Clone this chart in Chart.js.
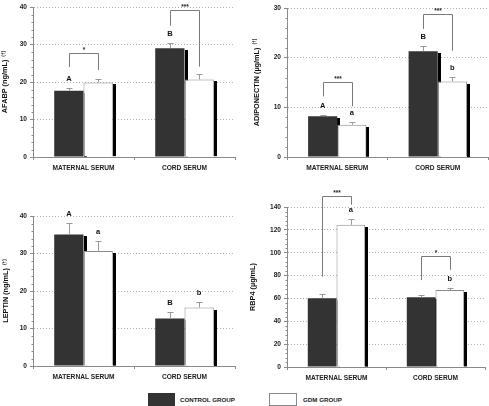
<!DOCTYPE html>
<html>
<head>
<meta charset="utf-8">
<script src="https://cdn.jsdelivr.net/npm/chart.js@4.4.1/dist/chart.umd.min.js"></script>
<style>
  html, body { margin: 0; padding: 0; background: #fff; }
  body { width: 489px; height: 406px; position: relative; overflow: hidden; font-family: "Liberation Sans", Arial, sans-serif; }
  canvas { position: absolute; }
  .sw { position: absolute; box-sizing: border-box; height: 13px; }
  .lg { position: absolute; font: bold 6.2px "Liberation Sans", Arial, sans-serif; color: #222; line-height: 8px; }
</style>
</head>
<body>
<canvas id="c-afabp" width="245" height="185" style="left:0;top:0"></canvas>
<canvas id="c-adipo" width="244" height="185" style="left:245px;top:0"></canvas>
<canvas id="c-leptin" width="245" height="200" style="left:0;top:185px"></canvas>
<canvas id="c-rbp4" width="244" height="200" style="left:245px;top:185px"></canvas>

<div class="sw" style="left:148px;top:393px;width:27px;background:#333"></div>
<div class="lg" id="lg-control" style="left:180px;top:396px"></div>
<div class="sw" style="left:269px;top:393px;width:28px;background:#fff;border:1px solid #8a8a8a"></div>
<div class="lg" id="lg-gdm" style="left:303px;top:396px"></div>

<script>
// ─── DATA ─────────────────────────────────────────────────────────────────────
const categories = ['MATERNAL SERUM', 'CORD SERUM'];
const seriesNames = ['CONTROL GROUP', 'GDM GROUP'];

const afabpControl = [17.7, 29.0];
const afabpGdm     = [19.9, 20.7];
const afabpSem     = [[0.8, 1.5], [0.9, 1.4]];
const afabpLetters = [['A', 'B'], ['', '']];
const afabpBrackets = [
  { cat: 0, left: 24.0, right: 23.2, top: 27.6, stars: '*' },
  { cat: 1, left: 35.0, right: 24.1, top: 39.2, stars: '***' },
];

const adipoControl = [8.2, 21.3];
const adipoGdm     = [6.5, 15.2];
const adipoSem     = [[0.3, 1.1], [0.5, 0.9]];
const adipoLetters = [['A', 'B'], ['a', 'b']];
const adipoBrackets = [
  { cat: 0, left: 12.2, right: 10.2, top: 15.2, stars: '***' },
  { cat: 1, left: 25.8, right: 21.4, top: 28.8, stars: '***' },
];

const leptinControl = [35.1, 12.7];
const leptinGdm     = [30.7, 15.6];
const leptinSem     = [[3.1, 1.7], [2.7, 1.4]];
const leptinLetters = [['A', 'B'], ['a', 'b']];
const leptinBrackets = [];

const rbp4Control = [60.1, 61.0];
const rbp4Gdm     = [124.4, 67.3];
const rbp4Sem     = [[3.5, 1.7], [5.0, 2.1]];
const rbp4Letters = [['', ''], ['a', 'b']];
const rbp4Brackets = [
  { cat: 0, left: 79, right: 142, top: 149.4, stars: '***' },
  { cat: 1, left: 76, right: 85, top: 97.4, stars: '*' },
];

document.getElementById('lg-control').textContent = seriesNames[0];
document.getElementById('lg-gdm').textContent = seriesNames[1];

const FONT = '"Liberation Sans", Arial, sans-serif';

// ─── DECORATIONS: bar shadows, error bars, letters, brackets, minor ticks, y title ──
const panelDecor = {
  id: 'panelDecor',
  beforeDatasetsDraw(chart) {
    const ctx = chart.ctx;
    ctx.save();
    ctx.fillStyle = '#000';
    chart.data.datasets.forEach((ds, i) => {
      chart.getDatasetMeta(i).data.forEach(bar => {
        const right = Math.round(bar.x + bar.width / 2);
        ctx.fillRect(right, Math.round(bar.y) + 2, 3, bar.base - bar.y - 2);
      });
    });
    ctx.restore();
  },
  afterDatasetsDraw(chart, args, o) {
    const { ctx, scales: { y } } = chart;
    ctx.save();

    // error bars (upper whisker only)
    ctx.strokeStyle = '#9a9a9a';
    ctx.lineWidth = 1;
    chart.data.datasets.forEach((ds, i) => {
      chart.getDatasetMeta(i).data.forEach((bar, j) => {
        const cx = Math.round(bar.x) + 0.5;
        const top = Math.round(y.getPixelForValue(ds.data[j] + o.sem[i][j])) + 0.5;
        ctx.beginPath();
        ctx.moveTo(cx, bar.y);
        ctx.lineTo(cx, top);
        ctx.moveTo(cx - 3, top);
        ctx.lineTo(cx + 3, top);
        ctx.stroke();

        const letter = o.letters[i][j];
        if (letter) {
          ctx.fillStyle = '#111';
          ctx.font = 'bold 7.5px ' + FONT;
          ctx.textAlign = 'center';
          ctx.textBaseline = 'middle';
          ctx.fillText(letter, bar.x, top - 10);
        }
      });
    });

    // significance brackets
    const m0 = chart.getDatasetMeta(0).data;
    const m1 = chart.getDatasetMeta(1).data;
    o.brackets.forEach(b => {
      const xl = Math.round(m0[b.cat].x) + 0.5;
      const xr = Math.round(m1[b.cat].x) + 0.5;
      const yt = Math.round(y.getPixelForValue(b.top)) + 0.5;
      ctx.strokeStyle = '#7a7a7a';
      ctx.beginPath();
      ctx.moveTo(xl, y.getPixelForValue(b.left));
      ctx.lineTo(xl, yt);
      ctx.lineTo(xr, yt);
      ctx.lineTo(xr, y.getPixelForValue(b.right));
      ctx.stroke();
      ctx.fillStyle = '#222';
      ctx.font = 'bold 6.5px ' + FONT;
      ctx.textAlign = 'center';
      ctx.textBaseline = 'alphabetic';
      ctx.fillText(b.stars, (xl + xr) / 2, yt - 1.5);
    });
    ctx.restore();
  },
  afterDraw(chart, args, o) {
    const { ctx, chartArea, scales: { y } } = chart;
    ctx.save();

    // minor ticks on the value axis
    ctx.strokeStyle = '#8a8a8a';
    ctx.lineWidth = 1;
    const ax = Math.round(chartArea.left) + 0.5;
    for (let v = 0; v <= y.max + 1e-9; v += o.minorStep) {
      if (Math.abs(v / o.majorStep - Math.round(v / o.majorStep)) < 1e-6) continue;
      const py = Math.round(y.getPixelForValue(v)) + 0.5;
      ctx.beginPath();
      ctx.moveTo(ax - 2, py);
      ctx.lineTo(ax, py);
      ctx.stroke();
    }

    // rotated y title with small dagger note
    const cy = (chartArea.top + chartArea.bottom) / 2;
    ctx.translate(o.titleX, cy);
    ctx.rotate(-Math.PI / 2);
    ctx.fillStyle = '#111';
    ctx.textBaseline = 'middle';
    ctx.textAlign = 'left';
    ctx.font = 'bold 7.3px ' + FONT;
    const wm = ctx.measureText(o.title).width;
    ctx.font = 'bold 4.8px ' + FONT;
    const ws = o.note ? ctx.measureText(o.note).width : 0;
    const total = wm + (o.note ? 3 + ws : 0);
    ctx.font = 'bold 7.3px ' + FONT;
    ctx.fillText(o.title, -total / 2, 0);
    if (o.note) {
      ctx.font = 'bold 4.8px ' + FONT;
      ctx.fillText(o.note, -total / 2 + wm + 3, -1.5);
    }
    ctx.restore();
  },
};

function makePanel(id, control, gdm, cfg) {
  const el = document.getElementById(id);
  return new Chart(el, {
    type: 'bar',
    data: {
      labels: categories,
      datasets: [
        { label: seriesNames[0], data: control, backgroundColor: '#333333', borderWidth: 0 },
        { label: seriesNames[1], data: gdm, backgroundColor: '#ffffff', borderColor: '#8a8a8a', borderWidth: 1 },
      ],
    },
    options: {
      responsive: false,
      animation: false,
      devicePixelRatio: 1,
      categoryPercentage: 0.58,
      barPercentage: 1,
      layout: { padding: { left: 0, right: cfg.padRight, top: cfg.padTop, bottom: 0 } },
      plugins: {
        legend: { display: false },
        tooltip: { enabled: false },
        panelDecor: {
          sem: cfg.sem, letters: cfg.letters, brackets: cfg.brackets,
          title: cfg.title, note: cfg.note, titleX: cfg.titleX,
          majorStep: cfg.step, minorStep: cfg.minor,
        },
      },
      scales: {
        x: {
          grid: { offset: true, drawOnChartArea: false, tickLength: 3, color: '#8a8a8a' },
          border: { color: '#8a8a8a' },
          ticks: { color: '#222', font: { family: FONT, size: 6.6, weight: 'bold' }, padding: 4 },
          afterFit: s => { s.height = cfg.xHeight; },
        },
        y: {
          min: 0, max: cfg.max,
          ticks: { stepSize: cfg.step, color: '#222', font: { family: FONT, size: 6.6, weight: 'bold' }, padding: 3 },
          grid: { color: '#b4b4b4', tickLength: 3, tickColor: '#8a8a8a', tickBorderDash: [] },
          border: { color: '#8a8a8a', dash: [1, 2] },
          afterFit: s => { s.width = cfg.yWidth; },
        },
      },
    },
    plugins: [panelDecor],
  });
}

makePanel('c-afabp', afabpControl, afabpGdm, {
  max: 40, step: 10, minor: 2, sem: afabpSem, letters: afabpLetters, brackets: afabpBrackets,
  title: 'AFABP (ng/mL)', note: '(†)', titleX: 5,
  yWidth: 33, xHeight: 28, padTop: 7, padRight: 10,
});
makePanel('c-adipo', adipoControl, adipoGdm, {
  max: 30, step: 10, minor: 2, sem: adipoSem, letters: adipoLetters, brackets: adipoBrackets,
  title: 'ADIPONECTIN (µg/mL)', note: '(†)', titleX: 11.5,
  yWidth: 42, xHeight: 28, padTop: 8, padRight: 1,
});
makePanel('c-leptin', leptinControl, leptinGdm, {
  max: 40, step: 10, minor: 2, sem: leptinSem, letters: leptinLetters, brackets: leptinBrackets,
  title: 'LEPTIN (ng/mL)', note: '(†)', titleX: 6,
  yWidth: 33, xHeight: 19, padTop: 31, padRight: 10,
});
makePanel('c-rbp4', rbp4Control, rbp4Gdm, {
  max: 140, step: 20, minor: 4, sem: rbp4Sem, letters: rbp4Letters, brackets: rbp4Brackets,
  title: 'RBP4 (µg/mL)', note: '', titleX: 7.5,
  yWidth: 42, xHeight: 18, padTop: 22, padRight: 4,
});
</script>
</body>
</html>
